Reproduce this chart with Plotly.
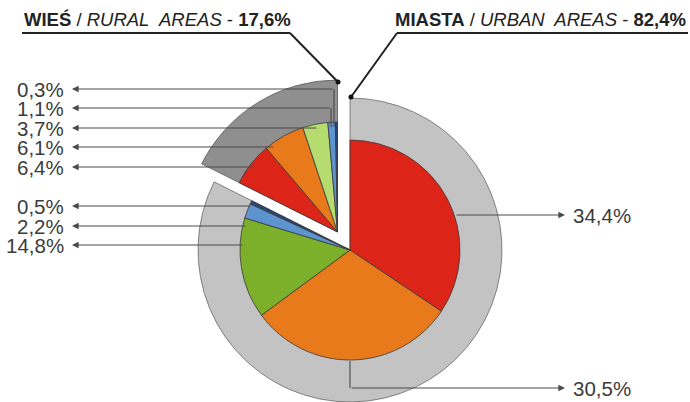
import plotly.graph_objects as go

W, H = 690, 402

# ---------------- data ----------------
area_names = ["MIASTA / URBAN AREAS", "WIEŚ / RURAL AREAS"]
area_values = [82.4, 17.6]
area_value_text = ["82,4%", "17,6%"]

urban_labels = ["34,4%", "30,5%", "14,8%", "2,2%", "0,5%"]
urban_values = [34.4, 30.5, 14.8, 2.2, 0.5]
rural_labels = ["6,4%", "6,1%", "3,7%", "1,1%", "0,3%"]
rural_values = [6.4, 6.1, 3.7, 1.1, 0.3]

# ---------------- styles ----------------
urban_colors = ["#dd2419", "#e97a1c", "#7caf2a", "#5d94d0", "#27467a"]
rural_colors = ["#dd2419", "#e97a1c", "#b6dc6f", "#5d94d0", "#27467a"]
ring_colors = ["#c3c3c3", "#8f8f8f"]
T = "rgba(0,0,0,0)"

CX, CY = 350, 250          # centre of urban pie (px)
R_OUT, R_IN = 152, 110     # radii (px)
SHIFT = (-12.5, -18.0)     # exploded rural part offset (px)


def dom(cx, cy, r):
    return dict(x=[(cx - r) / W, (cx + r) / W],
                y=[max(0.0, 1 - (cy + r) / H), min(1.0, 1 - (cy - r) / H)])


fig = go.Figure()

# invisible anchor for pixel-based cartesian coordinates
fig.add_trace(go.Scatter(x=[0, W], y=[0, H], mode="markers",
                         marker=dict(opacity=0), hoverinfo="skip", showlegend=False))

rcx, rcy = CX + SHIFT[0], CY + SHIFT[1]

common = dict(sort=False, direction="clockwise", rotation=0, textinfo="none",
              hoverinfo="skip", showlegend=False)

# outer ring: urban
fig.add_trace(go.Pie(labels=area_names, values=area_values, domain=dom(CX, CY, R_OUT),
                     marker=dict(colors=[ring_colors[0], T],
                                 line=dict(color=["#6a6a6a", T], width=[0.8, 0])),
                     **common))
# outer ring: rural (exploded)
fig.add_trace(go.Pie(labels=area_names, values=area_values, domain=dom(rcx, rcy, R_OUT),
                     marker=dict(colors=[T, ring_colors[1]],
                                 line=dict(color=[T, "#5a5a5a"], width=[0, 0.8])),
                     **common))

all_labels = ["u " + l for l in urban_labels] + ["r " + l for l in rural_labels]
all_values = urban_values + rural_values
# inner: urban
fig.add_trace(go.Pie(labels=all_labels, values=all_values, domain=dom(CX, CY, R_IN),
                     marker=dict(colors=urban_colors + [T] * 5,
                                 line=dict(color=["#3a3a3a"] * 5 + [T] * 5,
                                           width=[0.8] * 5 + [0] * 5)),
                     **common))
# inner: rural (exploded)
fig.add_trace(go.Pie(labels=all_labels, values=all_values, domain=dom(rcx, rcy, R_IN),
                     marker=dict(colors=[T] * 5 + rural_colors,
                                 line=dict(color=[T] * 5 + ["#3a3a3a"] * 5,
                                           width=[0] * 5 + [0.8] * 5)),
                     **common))

shapes = []
annotations = []
LC = "#4a4a4a"
LFONT = dict(family="Liberation Sans, Arial, sans-serif", size=20.5, color="#3c3c3c")


def leader(label, y, tail_x, tip_x, side, drop=None):
    annotations.append(dict(x=tip_x, y=y, ax=tail_x, ay=y, xref="x", yref="y",
                            axref="x", ayref="y", text="", showarrow=True,
                            arrowhead=2, arrowsize=1.2, arrowwidth=1.1, arrowcolor=LC))
    if drop is not None:
        shapes.append(dict(type="line", xref="x", yref="y", x0=tail_x, y0=y,
                           x1=tail_x, y1=drop, line=dict(color=LC, width=1.1), layer="above"))
    if side == "left":
        annotations.append(dict(x=tip_x - 6, y=y, xref="x", yref="y", text=label,
                                showarrow=False, xanchor="right", yanchor="middle", font=LFONT))
    else:
        annotations.append(dict(x=tip_x + 6, y=y, xref="x", yref="y", text=label,
                                showarrow=False, xanchor="left", yanchor="middle", font=LFONT))


# rural labels (left, top block)
leader(rural_labels[4], 89, 334, 72, "left", drop=127)
leader(rural_labels[3], 108, 331, 72, "left", drop=127)
leader(rural_labels[2], 128, 318, 72, "left")
leader(rural_labels[1], 147, 275, 72, "left")
leader(rural_labels[0], 167, 255, 72, "left")
# urban small labels (left)
leader(urban_labels[4], 206, 252, 72, "left")
leader(urban_labels[3], 226, 247, 72, "left")
leader(urban_labels[2], 245, 244, 72, "left")
# urban big labels (right)
leader(urban_labels[0], 215, 455, 565, "right")
leader(urban_labels[1], 388, 350, 565, "right", drop=361)

# headers
TFONT = dict(family="Liberation Sans, Arial, sans-serif", size=18.5, color="#222222")
annotations.append(dict(x=22, y=19, xref="x", yref="y", xanchor="left", yanchor="middle",
                        showarrow=False, font=TFONT,
                        text="<b>WIEŚ</b> / <i>RURAL&nbsp; AREAS</i> - <b>" + area_value_text[1] + "</b>"))
annotations.append(dict(x=688, y=19, xref="x", yref="y", xanchor="right", yanchor="middle",
                        showarrow=False, font=TFONT,
                        text="<b>MIASTA</b> / <i>URBAN&nbsp; AREAS</i> - <b>" + area_value_text[0] + "</b>"))
for (x0, y0, x1, y1) in [(22, 33, 290, 33), (290, 33, 338, 82),
                         (397, 33, 688, 33), (397, 33, 351, 97)]:
    shapes.append(dict(type="line", xref="x", yref="y", x0=x0, y0=y0, x1=x1, y1=y1,
                       line=dict(color="#222222", width=2), layer="above"))
for (x, y) in [(338, 82), (351, 97)]:
    shapes.append(dict(type="circle", xref="x", yref="y", x0=x - 2.5, y0=y - 2.5,
                       x1=x + 2.5, y1=y + 2.5, fillcolor="#111111",
                       line=dict(width=0), layer="above"))

fig.update_layout(
    width=W, height=H, margin=dict(l=0, r=0, t=0, b=0),
    paper_bgcolor="white", plot_bgcolor="white",
    xaxis=dict(range=[0, W], visible=False, fixedrange=True),
    yaxis=dict(range=[H, 0], visible=False, fixedrange=True),
    shapes=shapes, annotations=annotations,
)

fig.write_html("out.html", config={"displayModeBar": False, "staticPlot": True},
               post_script="document.body.style.margin='0px';")
